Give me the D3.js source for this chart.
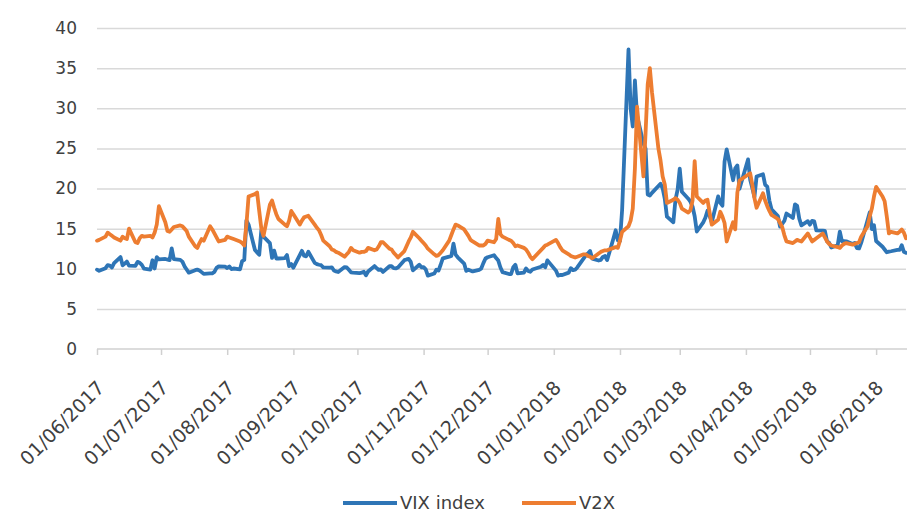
<!DOCTYPE html>
<html><head><meta charset="utf-8">
<script src="https://cdn.jsdelivr.net/npm/d3@7"></script>
<style>
html,body{margin:0;padding:0;background:#fff;}
svg{display:block;font-family:"DejaVu Sans",sans-serif;}
</style></head>
<body>
<svg id="chart" width="907" height="515"></svg>
<script>
// Rows are weeks (Mon..Fri) starting Monday 29/05/2017; null = no quote that day
const weekStart = "2017-05-29";
const seriesNames = ["VIX index", "V2X"];
const vixWeeks = [
  [null,null,null,9.89,9.75],
  [10.07,10.45,10.39,10.16,10.70],
  [11.46,10.42,10.64,10.90,10.38],
  [10.37,10.86,10.75,10.48,10.02],
  [9.90,11.06,10.03,11.44,11.18],
  [11.22,null,11.07,12.54,11.19],
  [11.11,10.89,10.30,9.90,9.51],
  [9.82,9.89,9.79,9.58,9.36],
  [9.43,9.43,9.60,10.11,10.29],
  [10.26,10.09,10.28,9.95,10.03],
  [9.93,10.96,11.11,16.04,15.51],
  [12.33,12.04,11.74,14.8,14.0],
  [13.19,11.35,12.25,11.28,11.28],
  [11.32,11.70,10.33,10.59,10.13],
  [null,12.23,11.63,11.55,12.12],
  [10.73,10.58,10.50,10.44,10.17],
  [10.15,10.18,9.78,9.67,9.59],
  [10.21,10.17,9.87,9.55,9.51],
  [9.45,9.51,9.63,9.19,9.65],
  [10.33,10.08,9.85,9.91,9.61],
  [10.31,10.31,10.07,10.05,10.15],
  [11.07,11.16,11.23,10.85,9.80],
  [10.50,10.18,10.20,9.93,9.14],
  [9.40,9.89,9.78,10.50,11.29],
  [11.50,11.59,13.13,11.76,11.43],
  [10.65,9.73,9.88,null,9.67],
  [9.87,10.03,10.70,11.28,11.43],
  [11.68,11.33,11.02,10.16,9.58],
  [9.34,9.34,10.18,10.49,9.42],
  [9.53,10.03,9.72,9.62,9.90],
  [null,10.25,10.47,10.18,11.04],
  [null,9.77,9.15,9.22,9.22],
  [9.52,10.08,9.82,9.88,10.16],
  [null,11.66,11.91,12.22,11.27],
  [11.03,11.10,11.47,11.58,11.08],
  [13.84,14.79,13.54,13.47,17.31],
  [37.32,29.98,27.73,33.46,29.06],
  [25.61,24.97,19.26,19.13,19.46],
  [null,20.60,20.02,18.72,16.49],
  [15.80,18.59,19.85,22.47,19.59],
  [18.73,18.36,17.76,16.54,14.64],
  [15.78,16.35,17.23,16.59,15.80],
  [19.02,18.20,17.86,23.34,24.87],
  [21.03,22.50,22.87,19.97,null],
  [23.62,21.10,20.06,18.94,21.49],
  [21.77,20.47,20.24,18.49,17.41],
  [16.56,15.25,15.60,15.96,16.88],
  [16.34,18.02,17.84,16.24,15.41],
  [15.93,15.49,15.97,15.90,14.77],
  [14.75,14.71,13.42,13.23,12.65],
  [12.93,14.63,13.42,13.43,13.42],
  [13.08,13.22,12.58,12.53,13.22],
  [null,17.02,14.94,15.43,13.46],
  [12.74,12.40,12.05,12.13,12.18],
  [12.35,12.34,12.94,12.12,11.98]
];
const v2xWeeks = [
  [null,null,null,13.5,13.6],
  [14.0,14.5,14.3,14.1,13.9],
  [13.5,14.0,13.8,13.7,15.0],
  [13.3,13.2,13.8,14.1,14.0],
  [14.1,13.9,14.5,15.5,17.8],
  [15.8,14.7,14.6,14.9,15.2],
  [15.4,15.3,15.0,14.7,14.0],
  [12.8,12.6,13.2,13.7,13.5],
  [15.3,14.9,14.4,13.9,13.4],
  [13.6,14.0,13.9,13.8,13.7],
  [13.4,13.2,12.9,15.5,19.0],
  [19.3,19.5,17.2,15.0,14.1],
  [18.0,18.5,17.6,16.8,16.2],
  [15.5,15.3,16.0,17.2,16.8],
  [15.5,16.0,16.4,16.5,16.6],
  [15.5,15.1,14.8,14.2,13.5],
  [12.8,12.4,12.3,12.1,12.0],
  [11.5,11.8,12.1,12.6,12.3],
  [12.0,12.1,12.1,12.2,12.6],
  [12.3,12.4,12.8,13.3,13.3],
  [12.5,12.4,12.0,11.7,11.4],
  [12.2,12.8,13.4,13.9,14.6],
  [13.8,13.5,13.2,12.9,12.5],
  [11.8,11.6,11.7,12.0,12.3],
  [13.5,14.2,14.9,15.5,15.4],
  [14.9,14.5,14.1,13.6,13.4],
  [12.9,12.9,12.9,13.1,13.5],
  [13.3,13.7,16.2,14.3,14.0],
  [13.6,13.5,13.2,12.8,12.9],
  [12.6,12.4,12.0,11.5,11.2],
  [null,null,12.6,12.9,13.0],
  [null,13.6,13.2,12.7,12.3],
  [11.8,11.6,11.5,11.4,11.5],
  [11.8,11.8,11.6,11.5,11.3],
  [11.9,12.1,12.2,12.3,12.3],
  [12.6,12.7,12.6,13.5,14.6],
  [15.3,16.0,17.5,22.5,30.2],
  [21.5,27.0,33.0,35.0,32.0],
  [25.0,23.5,21.5,20.5,18.2],
  [18.6,18.8,18.6,18.2,17.5],
  [17.0,17.3,18.5,23.4,19.0],
  [18.2,18.5,18.6,17.0,15.5],
  [16.1,17.1,16.5,15.7,13.4],
  [15.8,14.9,19.5,21.0,null],
  [null,21.9,20.5,18.8,17.6],
  [19.4,18.5,17.8,17.2,16.7],
  [16.2,15.7,15.2,14.2,13.4],
  [13.2,13.4,13.6,13.5,13.4],
  [14.4,null,13.4,13.6,13.8],
  [14.4,13.9,13.4,13.1,12.9],
  [12.7,12.6,12.9,13.1,13.2],
  [13.0,13.1,13.2,13.3,14.0],
  [15.3,16.5,17.5,19.0,20.2],
  [19.0,18.4,16.5,14.4,14.6],
  [14.4,14.6,14.9,14.5,13.8]
];
const yTicks = [0,5,10,15,20,25,30,35,40];
const xTickLabels = ["01/06/2017","01/07/2017","01/08/2017","01/09/2017","01/10/2017","01/11/2017","01/12/2017","01/01/2018","01/02/2018","01/03/2018","01/04/2018","01/05/2018","01/06/2018"];
const colors = ["#2E75B6", "#ED7D31"];

const parse = d3.timeParse("%Y-%m-%d");
const parseTick = d3.timeParse("%d/%m/%Y");
const startDay = parse(weekStart);
function toPoints(weeks){
  const pts = [];
  weeks.forEach((w,i)=>w.forEach((v,j)=>{
    if(v!==null) pts.push({date:d3.timeDay.offset(startDay, 7*i+j), value:v});
  }));
  return pts;
}
const series = [toPoints(vixWeeks), toPoints(v2xWeeks)];

const svg = d3.select("#chart");
const pLeft = 97, pRight = 906, pTop = 28, pBottom = 349;
const x = d3.scaleTime().domain([parse("2017-06-01"), parse("2018-06-15")]).range([pLeft, pRight]);
const y = d3.scaleLinear().domain([0,40]).range([pBottom, pTop]);

// gridlines
svg.append("g").attr("transform",`translate(${pLeft},0)`)
  .call(d3.axisLeft(y).tickValues(yTicks.slice(1)).tickSize(-(pRight-pLeft)).tickFormat(""))
  .call(g=>g.select(".domain").remove())
  .call(g=>g.selectAll("line").attr("stroke","#d9d9d9").attr("stroke-width",1.5));

// y labels
svg.append("g").attr("transform",`translate(${pLeft-20},0)`)
  .call(d3.axisLeft(y).tickValues(yTicks).tickSize(0).tickPadding(0))
  .call(g=>g.select(".domain").remove())
  .call(g=>g.selectAll("text").attr("fill","#404040").style("font-size","17px").style("font-family","DejaVu Sans"));

// x axis
const xAxis = svg.append("g").attr("transform",`translate(0,${pBottom})`)
  .call(d3.axisBottom(x).tickValues(xTickLabels.map(parseTick)).tickSize(6).tickFormat(d3.timeFormat("%d/%m/%Y")));
xAxis.select(".domain").attr("d",`M${pLeft},0H${pRight+1}`).attr("stroke","#d0d0d0").attr("stroke-width",1.5);
xAxis.selectAll(".tick line").attr("stroke","#d0d0d0").attr("stroke-width",1.5);
xAxis.selectAll(".tick text")
  .attr("fill","#404040").style("font-size","19px").style("font-family","DejaVu Sans")
  .attr("text-anchor","end").attr("y",0).attr("dy","0")
  .attr("transform","translate(8,40) rotate(-45)");

// lines
const line = d3.line().x(d=>x(d.date)).y(d=>y(d.value));
series.forEach((s,i)=>{
  svg.append("path").datum(s).attr("fill","none").attr("stroke",colors[i])
    .attr("stroke-width",3.8).attr("stroke-linejoin","round").attr("stroke-linecap","round")
    .attr("d",line);
});

// legend
const legend = svg.append("g").attr("transform","translate(0,503)");
const legX = [343, 522];
seriesNames.forEach((n,i)=>{
  legend.append("line").attr("x1",legX[i]).attr("x2",legX[i]+54).attr("y1",0).attr("y2",0)
    .attr("stroke",colors[i]).attr("stroke-width",4);
  legend.append("text").attr("x",legX[i]+57).attr("y",0).attr("dy","0.35em")
    .attr("fill","#404040").style("font-size","18px").text(n);
});
</script>
</body></html>
